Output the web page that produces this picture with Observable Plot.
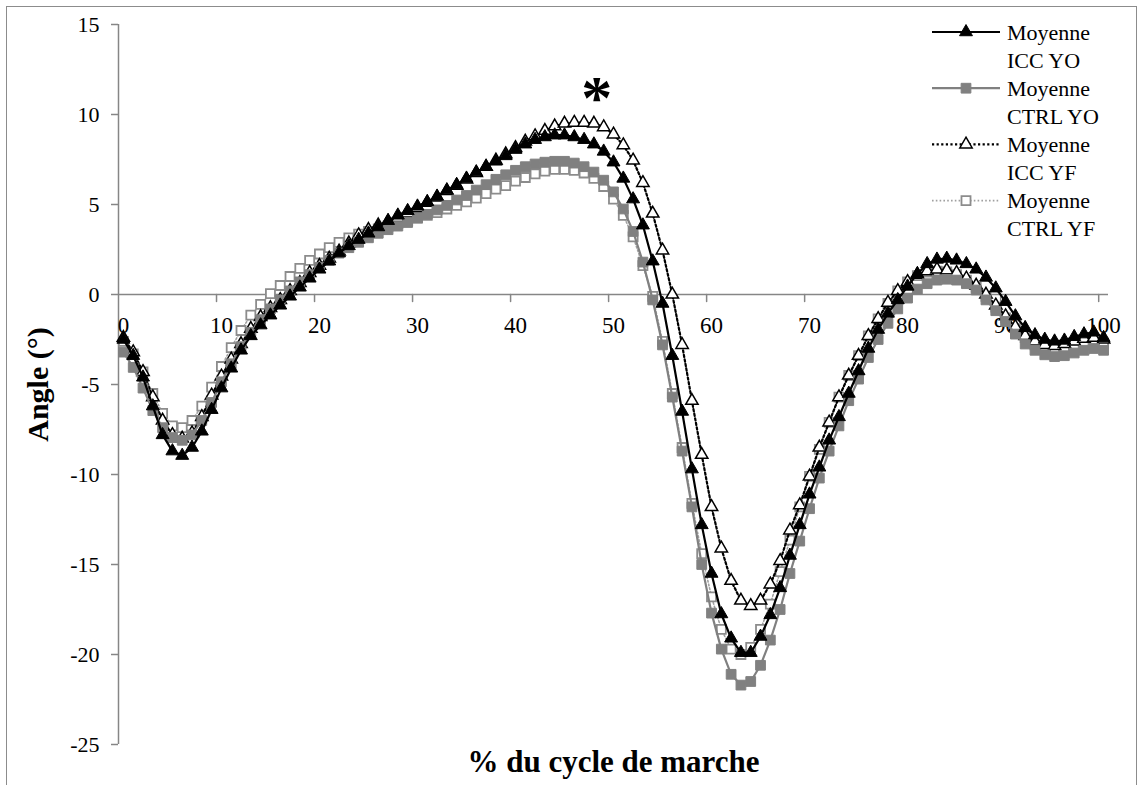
<!DOCTYPE html>
<html><head><meta charset="utf-8">
<script src="https://cdn.jsdelivr.net/npm/d3@7"></script>
<script src="https://cdn.jsdelivr.net/npm/@observablehq/plot@0.6"></script>
<style>
body{margin:0;background:#fff;}
#wrap{position:relative;width:1141px;height:785px;overflow:hidden;font-family:"Liberation Serif","Times New Roman",serif;}
#border{position:absolute;left:6px;top:6px;width:1131px;height:830px;border:1.5px solid #8c8c8c;box-sizing:border-box;}
#chart{position:absolute;left:0;top:0;}
#legend{position:absolute;left:920px;top:0;}
</style></head><body>
<div id="wrap"><div id="border"></div><div id="chart"></div><div id="legend"></div></div>
<script>
// Categories: % of gait cycle
const cycle = d3.range(0, 101);
const xTickLabels = [0, 10, 20, 30, 40, 50, 60, 70, 80, 90, 100];
const yTicks = [15, 10, 5, 0, -5, -10, -15, -20, -25];
const seriesNames = ["Moyenne ICC YO", "Moyenne CTRL YO", "Moyenne ICC YF", "Moyenne CTRL YF"];

const iccYO = [-2.5,-3.4,-4.6,-6.2,-7.8,-8.7,-8.95,-8.5,-7.6,-6.4,
 -5.2,-4.1,-3.1,-2.3,-1.7,-1.15,-0.6,-0.1,0.4,0.9,
 1.4,1.85,2.3,2.7,3.05,3.4,3.75,4.1,4.4,4.65,
 4.9,5.15,5.45,5.8,6.1,6.45,6.8,7.1,7.4,7.7,
 8.05,8.35,8.6,8.75,8.85,8.85,8.75,8.6,8.35,7.95,
 7.35,6.45,5.3,3.85,1.85,-0.5,-3.4,-6.5,-9.7,-12.8,
 -15.5,-17.75,-19.1,-19.9,-19.9,-19.0,-17.8,-16.3,-14.5,-12.8,
 -11.1,-9.6,-8.1,-6.8,-5.5,-4.25,-3.0,-1.95,-1.05,-0.3,
 0.45,1.15,1.7,1.95,2.0,1.9,1.7,1.4,0.95,0.35,
 -0.4,-1.2,-1.85,-2.25,-2.5,-2.6,-2.55,-2.35,-2.2,-2.1,
 -2.4];
const ctrlYO = [-3.2,-4.05,-5.2,-6.45,-7.4,-7.95,-8.1,-7.8,-7.0,-6.0,
 -4.85,-3.85,-2.9,-2.1,-1.4,-0.8,-0.3,0.2,0.7,1.1,
 1.5,1.9,2.3,2.6,2.9,3.15,3.4,3.6,3.8,4.0,
 4.25,4.45,4.7,4.95,5.25,5.5,5.8,6.1,6.4,6.65,
 6.9,7.1,7.25,7.35,7.4,7.4,7.3,7.1,6.8,6.35,
 5.7,4.75,3.5,1.8,-0.3,-2.8,-5.7,-8.7,-11.8,-15.0,
 -17.7,-19.7,-21.1,-21.7,-21.5,-20.6,-19.2,-17.5,-15.5,-13.7,
 -11.9,-10.2,-8.7,-7.3,-5.9,-4.7,-3.5,-2.5,-1.6,-0.8,
 -0.2,0.3,0.6,0.8,0.85,0.8,0.6,0.25,-0.3,-0.9,
 -1.5,-2.2,-2.75,-3.1,-3.35,-3.45,-3.4,-3.25,-3.1,-3.0,
 -3.1];
const iccYF = [-2.4,-3.2,-4.3,-5.7,-7.0,-7.8,-8.0,-7.7,-6.8,-5.6,
 -4.55,-3.6,-2.75,-1.9,-1.25,-0.75,-0.3,0.2,0.65,1.2,
 1.6,2.0,2.4,2.85,3.3,3.6,3.85,4.05,4.25,4.5,
 4.8,5.1,5.4,5.75,6.05,6.4,6.75,7.1,7.45,7.8,
 8.15,8.5,8.8,9.1,9.35,9.5,9.55,9.55,9.5,9.3,
 8.9,8.3,7.45,6.2,4.5,2.45,0.0,-2.8,-5.9,-8.9,
 -11.8,-14.1,-15.9,-17.0,-17.3,-17.0,-16.1,-14.8,-13.1,-11.7,
 -10.1,-8.5,-7.1,-5.7,-4.5,-3.4,-2.3,-1.35,-0.45,0.2,
 0.7,1.1,1.3,1.4,1.35,1.2,0.9,0.5,0.0,-0.6,
 -1.2,-1.8,-2.3,-2.6,-2.8,-2.85,-2.75,-2.6,-2.45,-2.4,
 -2.5];
const ctrlYF = [-2.6,-3.3,-4.3,-5.5,-6.6,-7.3,-7.4,-7.0,-6.2,-5.15,
 -4.0,-2.95,-2.0,-1.15,-0.55,0.05,0.5,1.0,1.45,1.9,
 2.25,2.6,2.9,3.15,3.35,3.5,3.65,3.8,3.95,4.1,
 4.25,4.4,4.55,4.75,4.95,5.15,5.35,5.6,5.85,6.05,
 6.3,6.5,6.7,6.85,6.95,6.95,6.9,6.75,6.45,6.0,
 5.3,4.4,3.2,1.6,-0.1,-2.6,-5.5,-8.5,-11.6,-14.4,
 -16.8,-18.6,-19.7,-20.0,-19.6,-18.6,-17.2,-15.4,-13.65,-11.8,
 -10.1,-8.6,-7.1,-5.7,-4.5,-3.4,-2.3,-1.35,-0.5,0.2,
 0.7,1.05,1.25,1.3,1.25,1.1,0.8,0.4,-0.1,-0.7,
 -1.3,-1.9,-2.4,-2.8,-3.0,-3.1,-3.0,-2.85,-2.7,-2.65,
 -2.7];
const annotation = [{x: 48.3, y: 10.9, label: "*"}];

// Styles (kept apart from data)
const styles = {
  "Moyenne ICC YO":  {values: iccYO,  line: "#000000", lw: 2.2, dash: null,      symbol: "triangle", r: 4.8, fill: "#000000", stroke: "#000000", sw: 1},
  "Moyenne CTRL YO": {values: ctrlYO, line: "#808080", lw: 2.2, dash: null,      symbol: "square",   r: 5.5, fill: "#808080", stroke: "#808080", sw: 1},
  "Moyenne ICC YF":  {values: iccYF,  line: "#000000", lw: 2.2, dash: "2.2,2.4", symbol: "triangle", r: 4.6, fill: "#ffffff", stroke: "#000000", sw: 1.5},
  "Moyenne CTRL YF": {values: ctrlYF, line: "#a0a0a0", lw: 1.6, dash: "1.6,2.2", symbol: "square",   r: 5.1, fill: "#ffffff", stroke: "#8c8c8c", sw: 1.8}
};
const drawOrder = ["Moyenne CTRL YF", "Moyenne ICC YF", "Moyenne CTRL YO", "Moyenne ICC YO"];

const seriesMarks = drawOrder.flatMap(name => {
  const s = styles[name];
  const rows = cycle.map((c, i) => ({c, v: s.values[i]}));
  return [
    Plot.line(rows, {x: "c", y: "v", stroke: s.line, strokeWidth: s.lw, strokeDasharray: s.dash}),
    Plot.dot(rows, {x: "c", y: "v", symbol: s.symbol, r: s.r, fill: s.fill, stroke: s.stroke, strokeWidth: s.sw})
  ];
});

const xTickPos = xTickLabels.filter(d => d > 0).map(d => d - 0.5);
const tickShape = {draw(context, l) { context.moveTo(0, 0); context.lineTo(0, -l); }};

const chart = Plot.plot({
  width: 1141, height: 785,
  marginLeft: 118, marginRight: 33, marginTop: 24, marginBottom: 41,
  x: {domain: [-0.5, 100.5], axis: null},
  y: {domain: [-25, 15], axis: null},
  style: {fontFamily: "'Liberation Serif','Times New Roman',serif", background: "transparent", overflow: "visible", color: "black"},
  marks: [
    Plot.ruleY([0], {stroke: "#868686", strokeWidth: 1.5}),
    Plot.ruleX([-0.5], {stroke: "#868686", strokeWidth: 1.5}),
    Plot.axisY({ticks: yTicks, tickFormat: d => String(d), tickSize: 7, tickPadding: 12, fontSize: 22, stroke: "#868686", fill: "black", strokeWidth: 1.5}),
    Plot.vector(xTickPos, {x: d => d, y: () => 0, length: 7, rotate: 180, anchor: "start", shape: tickShape, stroke: "#868686", strokeWidth: 1.5}),
    Plot.text(xTickLabels, {x: d => d, y: () => 0, dy: 31, text: d => String(d), fontSize: 23, fill: "black"}),
    ...seriesMarks,
    Plot.text(annotation, {x: "x", y: "y", text: "label", fontSize: 62, fontWeight: "bold", fill: "black"}),
    Plot.text(["Angle (°)"], {frameAnchor: "left", dx: -80, rotate: -90, textAnchor: "middle", text: d => d, fontSize: 30, fontWeight: "bold", fill: "black"}),
    Plot.text(["% du cycle de marche"], {frameAnchor: "bottom", dy: 27, textAnchor: "middle", text: d => d, fontSize: 31, fontWeight: "bold", fill: "black"})
  ]
});
document.getElementById("chart").appendChild(chart);

// Legend
const leg = d3.select("#legend").append("svg").attr("width", 221).attr("height", 250)
  .style("font-family", "'Liberation Serif','Times New Roman',serif");
seriesNames.forEach((name, k) => {
  const s = styles[name];
  const cy = 32 + 56.2 * k;
  const g = leg.append("g");
  g.append("line").attr("x1", 12).attr("x2", 80).attr("y1", cy).attr("y2", cy)
    .attr("stroke", s.line).attr("stroke-width", s.lw).attr("stroke-dasharray", s.dash);
  const sym = s.symbol === "triangle" ? d3.symbolTriangle : d3.symbolSquare;
  g.append("path").attr("d", d3.symbol(sym, Math.PI * s.r * s.r)())
    .attr("transform", `translate(46,${cy})`)
    .attr("fill", s.fill).attr("stroke", s.stroke).attr("stroke-width", s.sw);
  const words = name.split(" ");
  g.append("text").attr("x", 87).attr("y", cy).attr("dy", "0.35em").attr("font-size", 22).text(words[0]);
  g.append("text").attr("x", 87).attr("y", cy + 28).attr("dy", "0.35em").attr("font-size", 22).text(words.slice(1).join(" "));
});
</script>
</body></html>
